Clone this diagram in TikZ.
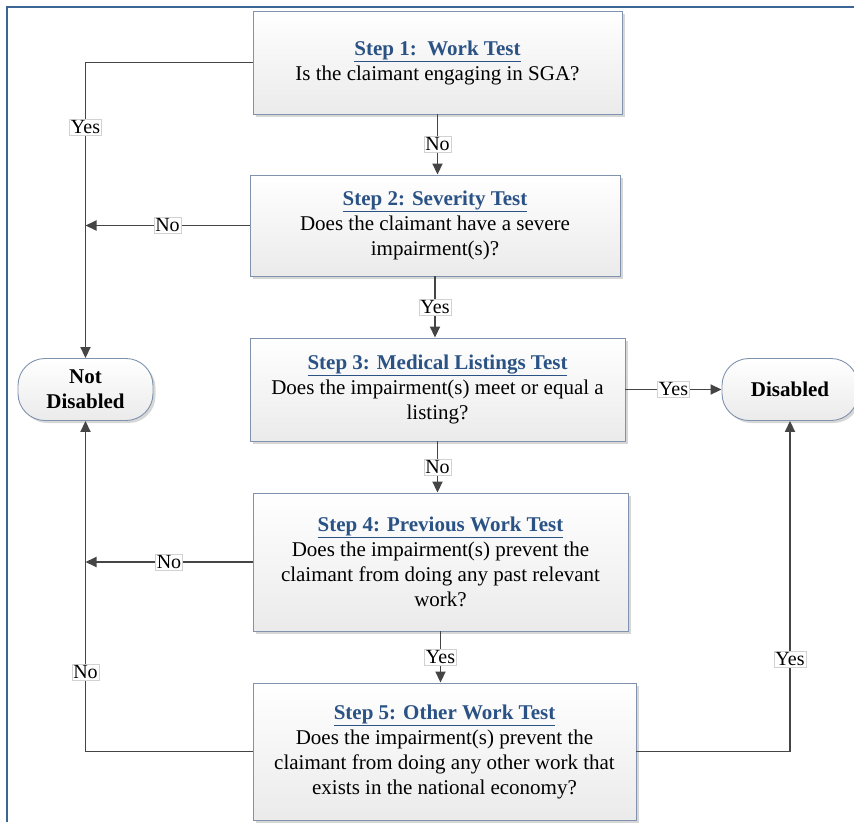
\documentclass[tikz,border=0pt]{standalone}
\usepackage{fontspec}
\setmainfont{Liberation Serif}
\usetikzlibrary{arrows.meta,shadows}

\definecolor{framecol}{HTML}{3A6595}
\definecolor{titlecol}{HTML}{2A5285}
\definecolor{edgecol}{HTML}{7F93AE}
\definecolor{linecol}{HTML}{454545}

\newcommand{\steptitle}[1]{\textcolor{titlecol}{\textbf{\underline{#1}}}}

\tikzset{
  stepbox/.style={draw=edgecol, line width=0.9pt, top color=white, bottom color=gray!16,
    drop shadow={shadow xshift=2.5pt, shadow yshift=-2.5pt, opacity=0.45, fill=gray!70},
    align=center, inner sep=4pt, font=\fontsize{21}{25}\selectfont},
  endbox/.style={stepbox, rounded corners=27pt, font=\fontsize{21}{25}\selectfont\bfseries},
  answer/.style={fill=white, draw=gray!35, line width=0.5pt, inner sep=1.5pt,
    font=\fontsize{20}{22}\selectfont},
  flow/.style={draw=linecol, line width=1.8pt, -{Triangle[length=11pt,width=10pt]}},
}

\begin{document}
\begin{tikzpicture}[x=1pt, y=-1pt]

  \useasboundingbox (0,0) rectangle (854,822);

  % outer frame (clipped on the right and bottom)
  \draw[framecol, line width=2pt] (7,822) -- (7,7) -- (854,7);

  % steps
  \node[stepbox, minimum width=369pt, minimum height=103pt] (s1) at (437.5,62.5)
    {\steptitle{Step 1:\ \ Work Test}\\ Is the claimant engaging in SGA?};
  \node[stepbox, minimum width=370pt, minimum height=101pt] (s2) at (435,225.5)
    {\steptitle{Step 2: Severity Test}\\ Does the claimant have a severe\\ impairment(s)?};
  \node[stepbox, minimum width=375pt, minimum height=103pt] (s3) at (437.5,389.5)
    {\steptitle{Step 3: Medical Listings Test}\\ Does the impairment(s) meet or equal a\\ listing?};
  \node[stepbox, minimum width=375pt, minimum height=138pt] (s4) at (440.5,562)
    {\steptitle{Step 4: Previous Work Test}\\ Does the impairment(s) prevent the\\ claimant from doing any past relevant\\ work?};
  \node[stepbox, minimum width=383pt, minimum height=137pt] (s5) at (444.5,751.5)
    {\steptitle{Step 5: Other Work Test}\\ Does the impairment(s) prevent the\\ claimant from doing any other work that\\ exists in the national economy?};

  % outcomes
  \node[endbox, minimum width=135pt, minimum height=62pt] (notdis) at (85.5,389.5) {Not\\ Disabled};
  \node[endbox, minimum width=136pt, minimum height=62pt] (dis) at (790,389.5) {Disabled};

  % connectors
  \draw[flow] (s1.west) -| node[answer, pos=0.61] {Yes} (notdis.north);
  \draw[flow] (s1.south) -- node[answer] {No} (s1.south |- s2.north);
  \draw[flow] (s2.west) -- node[answer] {No} (notdis.north |- s2.west);
  \draw[flow] (s2.south) -- node[answer] {Yes} (s2.south |- s3.north);
  \draw[flow] (s3.east) -- node[answer] {Yes} (dis.west);
  \draw[flow] (s3.south) -- node[answer] {No} (s3.south |- s4.north);
  \draw[flow] (s4.west) -- node[answer] {No} (notdis.north |- s4.west);
  \draw[flow] (s4.south) -- node[answer] {Yes} (s4.south |- s5.north);
  \draw[flow] (s5.west) -| node[answer, pos=0.62] {No} (notdis.south);
  \draw[flow] (s5.east) -| node[answer, pos=0.64] {Yes} (dis.south);

\end{tikzpicture}
\end{document}
